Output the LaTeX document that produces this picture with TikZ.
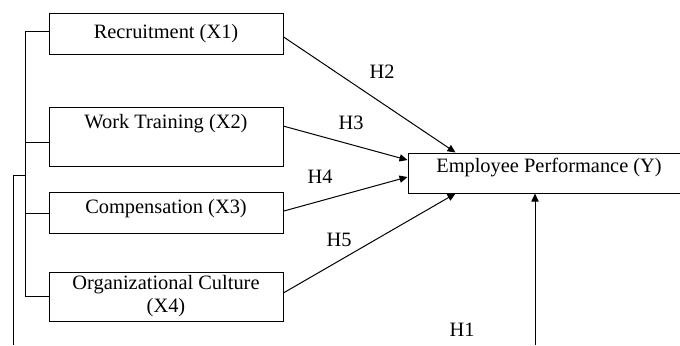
\documentclass[tikz,border=0pt]{standalone}
\usepackage{fontspec}
\setmainfont{Liberation Serif}
\usetikzlibrary{arrows.meta, positioning}
\tikzset{%
    var/.style={draw, line width=0.5pt, minimum width=117pt, inner sep=0pt, align=center,
        font=\fontsize{10.2}{11.5}\selectfont},
    sec/.style={line width=0.5pt},
    seca/.style={line width=0.5pt, -{Triangle[length=4pt, width=3.6pt]}},
    lab/.style={inner sep=0pt, font=\fontsize{10.2}{11.5}\selectfont},
}
\begin{document}
\begin{tikzpicture}[x=0.5pt, y=-0.5pt]
    \useasboundingbox (0,0) rectangle (680,345);
    \node [var, minimum height=20.5pt] (rec) at (166,33.5) {Recruitment (X1)};
    \node [var, minimum height=29.5pt, text depth=15pt] (trn) at (166,136.5) {Work Training (X2)};
    \node [var, minimum height=20.5pt, text depth=6pt] (cmp) at (166,212.5) {Compensation (X3)};
    \node [var, minimum height=24.5pt] (cul) at (166,296.5) {Organizational Culture\\(X4)};
    \node [var, minimum width=141pt, minimum height=20pt, text depth=7.5pt] (perf) at (549,173) {Employee Performance (Y)};
    % bracket on the left
    \draw [sec] ([yshift=0.8pt]rec.west) -- ++(-23,0) coordinate (top) -- (top |- cul.west) -- (cul.west);
    \draw [sec] ([yshift=-3pt]trn.west) -- ([yshift=-3pt]trn.west -| top);
    \draw [sec] ([yshift=-0.7pt]cmp.west) -- ([yshift=-0.7pt]cmp.west -| top);
    \coordinate (join) at (26,175);
    \coordinate (stem) at (13,345);
    \draw [sec] (stem) |- (join);
    % hypotheses
    \draw [seca] ([yshift=-1.7pt]rec.east) -- ([xshift=24pt]perf.north west);
    \draw [seca] ([yshift=5.2pt]trn.east) -- ([yshift=6.5pt]perf.west);
    \draw [seca] ([yshift=0.7pt]cmp.east) -- ([yshift=-2pt]perf.west);
    \draw [seca] ([yshift=1.8pt]cul.east) -- ([xshift=24pt]perf.south west);
    \coordinate (base) at (535,345);
    \draw [seca] (base) -- (base |- perf.south);
    \node [lab] (h2) at (382,72) {H2};
    \node [lab] (h3) at (351,123) {H3};
    \node [lab] (h4) at (320,177) {H4};
    \node [lab] (h5) at (339,240) {H5};
    \node [lab] (h1) at (462,330) {H1};
\end{tikzpicture}
\end{document}
